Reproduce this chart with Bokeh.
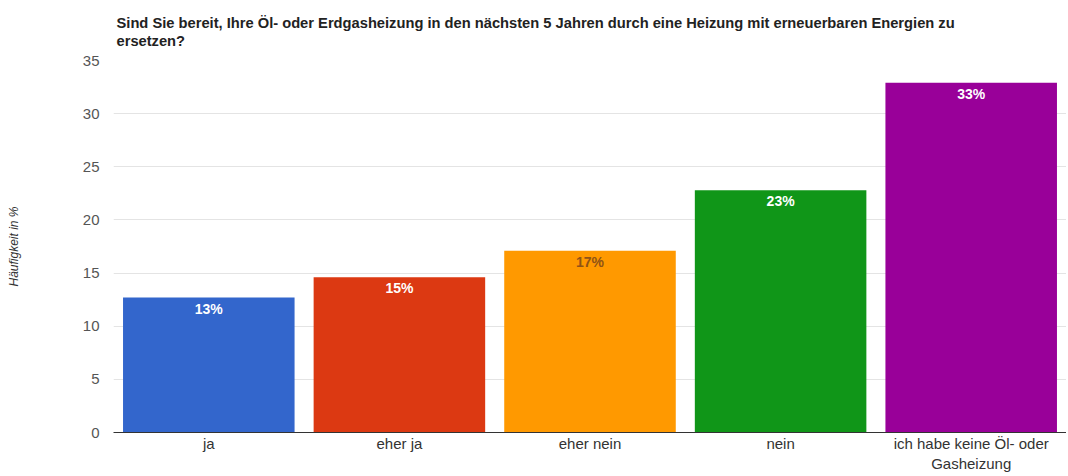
from bokeh.plotting import figure
from bokeh.models import ColumnDataSource, Title, Range1d, FactorRange
from bokeh.core.properties import value
from bokeh.embed import file_html
from bokeh.resources import INLINE

categories = ["ja", "eher ja", "eher nein", "nein", "ich habe keine Öl- oder\nGasheizung"]
values = [12.7, 14.6, 17.1, 22.8, 32.9]
labels = ["13%", "15%", "17%", "23%", "33%"]
colors = ["#3366cc", "#dc3912", "#ff9900", "#109618", "#990099"]
label_colors = ["#ffffff", "#ffffff", "#8f5316", "#ffffff", "#ffffff"]
y_ticks = [0, 5, 10, 15, 20, 25, 30, 35]
title_text = ("Sind Sie bereit, Ihre Öl- oder Erdgasheizung in den nächsten 5 Jahren durch eine Heizung mit erneuerbaren Energien zu\n"
              "ersetzen?")

src = ColumnDataSource(dict(cat=categories, val=values, lab=labels, col=colors, lcol=label_colors))

p = figure(width=1066, height=474, x_range=FactorRange(*categories, range_padding=0),
           y_range=Range1d(0, 35), output_backend="svg", toolbar_location=None,
           min_border_left=113, min_border_right=0, min_border_top=60, min_border_bottom=40)
p.outline_line_color = None
p.title = Title(text=title_text, text_font="Liberation Sans", text_font_size="14.7px",
                text_font_style="bold", text_color="#222222", align="left", offset=3,
                standoff=22, text_line_height=1.18)

p.vbar(x="cat", top="val", width=0.9, source=src, fill_color="col", line_color=None)
p.text(x="cat", y="val", text="lab", source=src, text_color="lcol", text_align="center",
       text_baseline="top", y_offset=3, text_font=value("Liberation Sans"),
       text_font_size="14px", text_font_style="bold")

p.xgrid.grid_line_color = None
p.ygrid.grid_line_color = "#e4e4e4"
p.ygrid.minor_grid_line_color = "#ececec"

p.yaxis.ticker = y_ticks
p.yaxis.ticker.num_minor_ticks = 2
p.yaxis.axis_line_color = None
p.yaxis.major_tick_line_color = None
p.yaxis.minor_tick_line_color = None
p.yaxis.major_tick_out = 0
p.yaxis.minor_tick_out = 0
p.yaxis.major_label_standoff = 14
p.yaxis.major_label_text_font = "Liberation Sans"
p.yaxis.major_label_text_font_size = "15px"
p.yaxis.major_label_text_color = "#555555"
p.yaxis.axis_label = "Häufigkeit in %"
p.yaxis.axis_label_text_font = "Liberation Sans"
p.yaxis.axis_label_text_font_size = "12px"
p.yaxis.axis_label_text_font_style = "italic"
p.yaxis.axis_label_text_color = "#333333"
p.yaxis.axis_label_standoff = 59

p.xaxis.axis_line_color = "#333333"
p.xaxis.axis_line_width = 1
p.xaxis.major_tick_line_color = None
p.xaxis.minor_tick_line_color = None
p.xaxis.major_tick_out = 0
p.xaxis.minor_tick_out = 0
p.xaxis.major_label_standoff = 2
p.xaxis.major_label_text_font = "Liberation Sans"
p.xaxis.major_label_text_font_size = "15px"
p.xaxis.major_label_text_color = "#333333"

open("out.html", "w").write(file_html(p, INLINE))
